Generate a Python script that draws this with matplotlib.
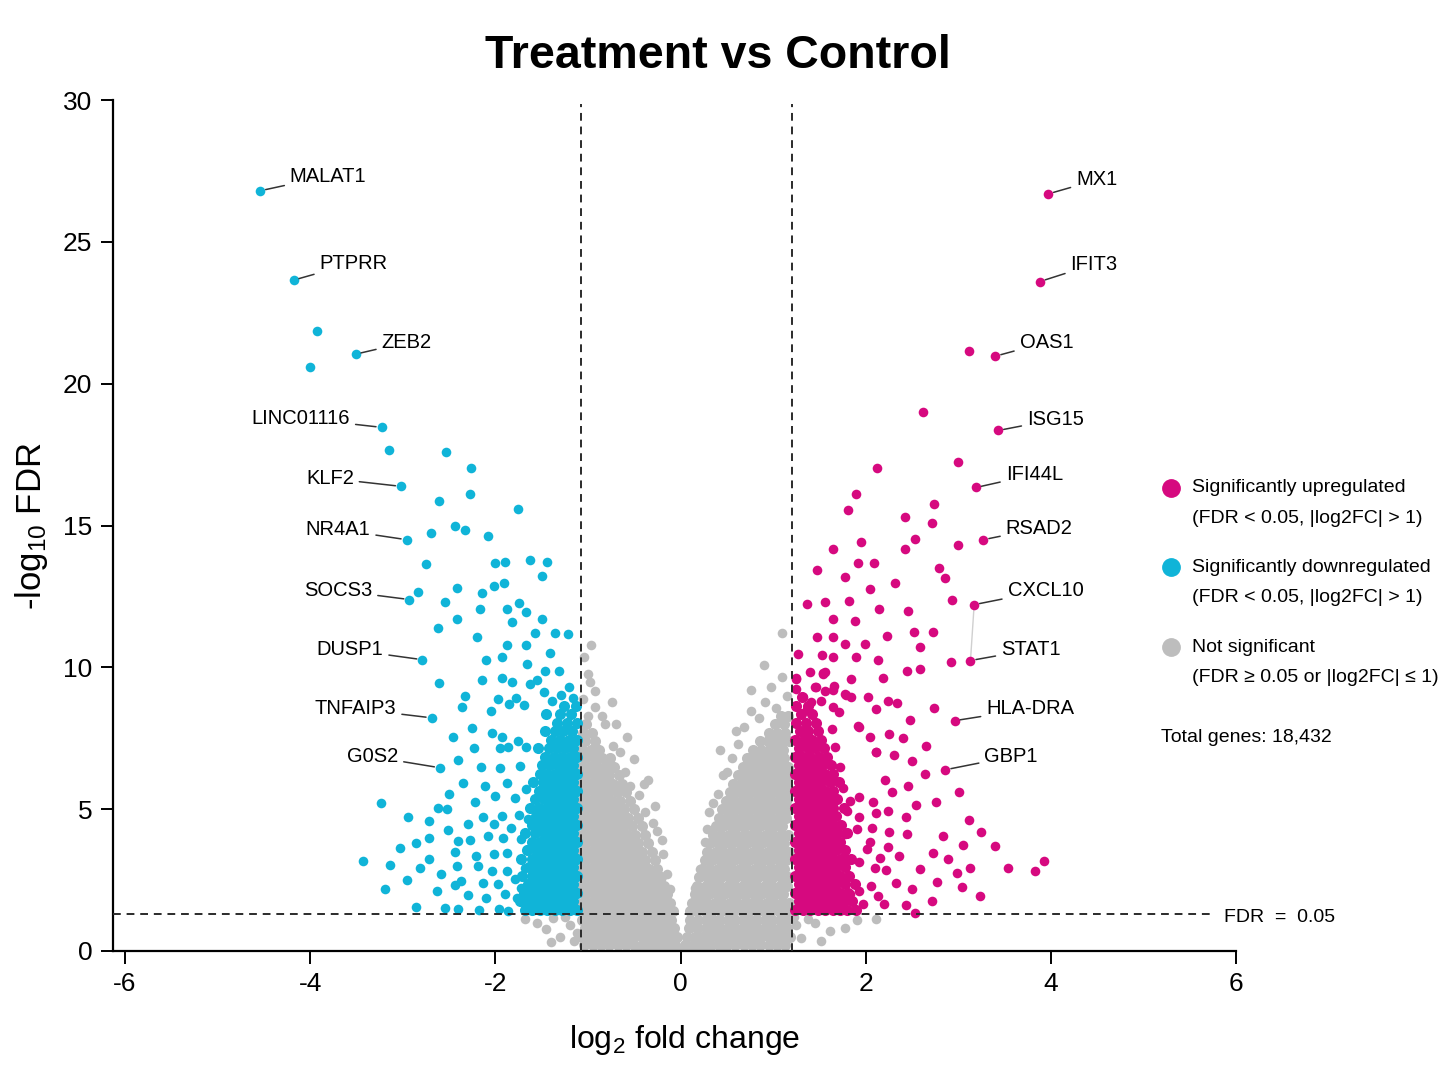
import matplotlib
matplotlib.use("Agg")
import matplotlib.pyplot as plt
from matplotlib.lines import Line2D

# volcano plot: Treatment vs Control
plt.rcParams['font.family'] = ['Liberation Sans', 'DejaVu Sans']
plt.rcParams['mathtext.fontset'] = 'custom'
plt.rcParams['mathtext.rm'] = 'Liberation Sans'
plt.rcParams['axes.unicode_minus'] = False

UP = '#D6097F'
DOWN = '#10B4D8'
NS = '#BDBDBD'

# thresholds as drawn
fc_left, fc_right, fdr_line = -1.08, 1.2, 1.3

# labelled genes
down_genes = ["MALAT1", "PTPRR", "ZEB2", "LINC01116", "KLF2", "NR4A1",
              "SOCS3", "DUSP1", "TNFAIP3", "G0S2"]
down_gene_x = [-4.54, -4.18, -3.51, -3.23, -3.02, -2.96, -2.93, -2.79, -2.69, -2.60]
down_gene_y = [26.8, 23.65, 21.04, 18.46, 16.38, 14.5, 12.39, 10.27, 8.22, 6.46]

up_genes = ["MX1", "IFIT3", "OAS1", "ISG15", "IFI44L", "RSAD2",
            "CXCL10", "STAT1", "HLA-DRA", "GBP1"]
up_gene_x = [3.97, 3.88, 3.40, 3.43, 3.19, 3.27, 3.17, 3.13, 2.96, 2.86]
up_gene_y = [26.69, 23.6, 20.97, 18.35, 16.34, 14.5, 12.21, 10.24, 8.12, 6.39]

# other downregulated genes (scattered)
down_x = [-3.93, -4.00, -3.15, -2.53, -2.26, -2.61, -2.27, -1.76, -2.70, -2.44, -2.33, -2.08,
          -2.75, -2.00, -1.90, -1.63, -1.44, -1.50, -2.84, -2.41, -2.15, -2.02, -1.91,
          -2.55, -2.17, -1.88, -1.75, -1.67, -2.62, -2.41, -1.82, -1.50,
          -2.20, -1.57, -1.36, -1.22, -1.88, -1.67, -2.10, -1.93, -1.66, -1.41, -1.46, -1.31,
          -2.61, -2.15, -1.93, -1.82, -1.63, -1.55, -1.48, -1.21, -1.16,
          -2.33, -2.36, -1.97, -1.78, -1.69, -1.39, -1.29,
          -2.05, -1.85, -2.25, -2.04, -1.93, -1.76, -2.46, -2.23, -1.95, -1.86, -1.67,
          -2.40, -2.16, -1.95, -1.74, -2.35, -2.11, -1.88, -1.67,
          -2.22, -2.00, -1.79, -2.50, -2.52, -2.30, -2.13, -1.93, -1.75, -2.02, -1.83, -1.65,
          -2.27, -2.08, -1.92, -1.72, -2.44, -2.21, -2.02, -1.87, -1.65,
          -2.42, -2.19, -2.04, -1.88, -1.68, -2.37, -2.13, -1.97, -1.79, -1.72,
          -2.30, -2.10, -1.90, -1.77, -2.40, -2.18, -1.96, -1.86, -1.67, -2.55,
          -3.24, -2.94, -2.72, -2.62, -3.03, -2.86, -2.72, -3.43, -3.14, -2.82, -2.72, -2.59,
          -2.95, -2.63, -3.19, -2.86, -2.51, -2.44, -2.40]
down_y = [21.85, 20.58, 17.67, 17.59, 17.03, 15.88, 16.10, 15.57, 14.74, 14.98, 14.85, 14.64,
          13.65, 13.68, 13.73, 13.80, 13.73, 13.21, 12.67, 12.80, 12.63, 12.85, 12.96,
          12.32, 12.05, 12.06, 12.27, 11.95, 11.38, 11.69, 11.60, 11.69,
          11.08, 11.21, 11.22, 11.18, 10.77, 10.80, 10.25, 10.36, 10.11, 10.51, 9.87, 9.88,
          9.45, 9.54, 9.61, 9.49, 9.43, 9.54, 9.13, 9.32, 8.93,
          8.98, 8.60, 8.90, 8.93, 8.66, 8.80, 9.03,
          8.47, 8.71, 7.86, 7.67, 7.53, 7.41, 7.53, 7.16, 7.16, 7.18, 7.18,
          6.73, 6.47, 6.46, 6.53, 5.92, 5.80, 5.91, 5.71,
          5.24, 5.47, 5.41, 5.55, 5.00, 4.47, 4.71, 4.77, 4.80, 4.47, 4.35, 4.65,
          3.92, 4.06, 4.00, 3.94, 3.49, 3.35, 3.41, 3.47, 3.59,
          3.00, 3.00, 2.82, 2.82, 2.94, 2.47, 2.41, 2.35, 2.53, 2.23,
          1.98, 1.88, 2.00, 1.88, 1.47, 1.44, 1.47, 1.41, 1.53, 1.53,
          5.21, 4.74, 4.59, 5.03, 3.62, 3.79, 3.98, 3.19, 3.02, 2.92, 3.23, 2.70,
          2.51, 2.12, 2.19, 1.55, 4.25, 2.31, 3.87]

# other upregulated genes (scattered)
up_x = [3.11, 2.62, 3.00, 2.12, 1.89, 1.81, 2.74, 2.42, 2.71, 2.53, 3.00, 2.42, 1.95, 1.64,
        1.91, 2.09, 1.47, 1.77, 2.79, 2.86, 2.32, 2.05, 1.36, 1.56, 1.82, 2.93, 2.14, 2.45,
        1.65, 1.88, 1.47, 1.65, 1.78, 1.99, 2.23, 2.52, 2.73, 2.58, 1.27, 1.53, 1.65, 1.89,
        2.13, 2.92, 2.44, 2.58, 2.18, 1.40, 1.54, 1.84, 1.25, 1.45, 1.64, 1.79, 2.02, 2.24,
        2.34, 2.11, 2.74, 2.48, 1.92, 2.04, 2.25, 2.40, 2.65, 2.11, 2.30, 2.50, 2.64, 3.01,
        2.21, 2.45, 2.76, 2.54, 2.28, 2.43, 3.11, 3.24, 2.83, 3.05, 3.40, 2.72, 2.89, 3.13,
        3.54, 3.83, 3.92, 2.98, 2.58, 3.04, 3.23, 2.77, 2.50, 2.71, 2.43, 2.33, 2.22, 2.24,
        2.44, 2.25, 2.04, 2.11, 2.08, 2.53,
        1.93, 2.11, 1.93, 1.83, 2.24, 1.93, 1.90, 2.07, 2.36, 2.15, 2.01, 1.93, 2.10, 2.06,
        1.93, 2.13, 1.83, 2.20, 1.97, 1.78, 1.77, 1.80, 1.75, 1.72, 1.67, 1.63, 1.71, 1.84,
        1.66, 1.56, 1.25, 1.54, 1.46, 1.56, 1.32, 1.25, 1.41, 1.52, 1.36, 1.64, 1.77]
up_y = [21.14, 19.01, 17.25, 17.03, 16.11, 15.53, 15.75, 15.30, 15.10, 14.53, 14.32, 14.17,
        14.42, 14.16, 13.67, 13.67, 13.44, 13.19, 13.50, 13.16, 12.97, 12.77, 12.22, 12.30,
        12.34, 12.38, 12.05, 11.99, 11.70, 11.64, 11.07, 11.07, 10.83, 10.83, 11.09, 11.26,
        11.23, 10.70, 10.48, 10.44, 10.35, 10.37, 10.25, 10.20, 9.88, 9.93, 9.63, 9.85, 9.78,
        9.59, 9.63, 9.30, 9.21, 9.03, 8.94, 8.82, 8.74, 8.52, 8.57, 8.14, 7.92, 7.55, 7.66,
        7.51, 7.24, 7.03, 6.92, 6.69, 6.23, 5.62, 6.03, 5.81, 5.24, 5.14, 5.62, 4.71, 4.61,
        4.21, 4.05, 3.73, 3.71, 3.44, 3.25, 2.94, 2.91, 2.81, 3.18, 2.75, 2.89, 2.24, 1.93,
        2.43, 2.19, 1.78, 1.63, 2.41, 2.85, 3.67, 4.13, 4.21, 3.86, 4.87, 5.24, 1.34,
        7.91, 7.00, 5.44, 5.29, 4.94, 4.71, 4.29, 4.35, 3.35, 3.29, 3.59, 3.12, 2.94, 2.29,
        2.12, 1.94, 2.00, 1.65, 1.65, 3.29, 4.12, 4.94, 5.76, 6.47, 7.18, 7.82, 8.41, 8.94,
        9.35, 9.82, 9.59, 9.79, 9.30, 9.18, 8.94, 9.24, 8.77, 8.83, 8.53, 8.59, 9.06]

# dense cores next to the fold-change cut-offs, read row by row
down_core_y = [1.45, 1.75, 2.05, 2.35, 2.65, 2.95, 3.25, 3.55, 3.85, 4.15, 4.45, 4.75, 5.05,
               5.35, 5.65, 5.95, 6.25, 6.55, 6.85, 7.15, 7.45, 7.75, 8.05, 8.35, 8.65]
down_core_x = [
    [-1.12, -1.20, -1.28, -1.36, -1.44, -1.52, -1.60, -1.68],
    [-1.16, -1.24, -1.32, -1.40, -1.48, -1.56, -1.64, -1.74],
    [-1.12, -1.20, -1.28, -1.36, -1.44, -1.52, -1.60, -1.69],
    [-1.16, -1.24, -1.32, -1.40, -1.48, -1.56, -1.65],
    [-1.12, -1.20, -1.28, -1.36, -1.44, -1.52, -1.60, -1.71],
    [-1.16, -1.24, -1.32, -1.40, -1.48, -1.56, -1.64],
    [-1.12, -1.20, -1.28, -1.36, -1.44, -1.52, -1.61, -1.72],
    [-1.16, -1.24, -1.32, -1.40, -1.48, -1.56, -1.66],
    [-1.12, -1.20, -1.28, -1.36, -1.44, -1.52, -1.60],
    [-1.16, -1.24, -1.32, -1.40, -1.48, -1.57, -1.68],
    [-1.12, -1.20, -1.28, -1.36, -1.44, -1.52, -1.61],
    [-1.16, -1.24, -1.32, -1.40, -1.48, -1.56],
    [-1.12, -1.20, -1.28, -1.36, -1.44, -1.53, -1.63],
    [-1.16, -1.24, -1.32, -1.40, -1.48, -1.57],
    [-1.12, -1.20, -1.28, -1.36, -1.44, -1.53],
    [-1.16, -1.24, -1.32, -1.40, -1.49, -1.59],
    [-1.12, -1.20, -1.28, -1.36, -1.44, -1.52],
    [-1.16, -1.24, -1.32, -1.41, -1.50],
    [-1.12, -1.20, -1.28, -1.37, -1.46],
    [-1.16, -1.25, -1.33, -1.42, -1.54],
    [-1.12, -1.21, -1.30, -1.40],
    [-1.17, -1.27, -1.36, -1.47],
    [-1.12, -1.23, -1.33],
    [-1.18, -1.30, -1.45],
    [-1.13, -1.26],
]

up_core_y = [1.45, 1.75, 2.05, 2.35, 2.65, 2.95, 3.25, 3.55, 3.85, 4.15, 4.45, 4.75, 5.05,
             5.35, 5.65, 5.95, 6.25, 6.55, 6.85, 7.15, 7.45, 7.75, 8.05, 8.35, 8.65, 8.95]
up_core_x = [
    [1.24, 1.32, 1.40, 1.48, 1.56, 1.64, 1.72, 1.80, 1.89],
    [1.28, 1.36, 1.44, 1.52, 1.60, 1.68, 1.76, 1.85],
    [1.24, 1.32, 1.40, 1.48, 1.56, 1.64, 1.72, 1.81],
    [1.28, 1.36, 1.44, 1.52, 1.60, 1.68, 1.77, 1.88],
    [1.24, 1.32, 1.40, 1.48, 1.56, 1.64, 1.72, 1.82],
    [1.28, 1.36, 1.44, 1.52, 1.60, 1.68, 1.77],
    [1.24, 1.32, 1.40, 1.48, 1.56, 1.64, 1.73, 1.84],
    [1.28, 1.36, 1.44, 1.52, 1.60, 1.68, 1.78],
    [1.24, 1.32, 1.40, 1.48, 1.56, 1.64, 1.72],
    [1.28, 1.36, 1.44, 1.52, 1.60, 1.69, 1.80],
    [1.24, 1.32, 1.40, 1.48, 1.56, 1.64, 1.73],
    [1.28, 1.36, 1.44, 1.52, 1.60, 1.68],
    [1.24, 1.32, 1.40, 1.48, 1.56, 1.65, 1.76],
    [1.28, 1.36, 1.44, 1.52, 1.60, 1.69],
    [1.24, 1.32, 1.40, 1.48, 1.56, 1.65],
    [1.28, 1.36, 1.44, 1.52, 1.61, 1.71],
    [1.24, 1.32, 1.40, 1.48, 1.56, 1.64],
    [1.28, 1.36, 1.44, 1.53, 1.62],
    [1.24, 1.32, 1.40, 1.49, 1.58],
    [1.28, 1.37, 1.45, 1.55],
    [1.24, 1.33, 1.42, 1.52],
    [1.29, 1.38, 1.48],
    [1.25, 1.35, 1.46],
    [1.30, 1.42],
    [1.25, 1.37],
    [1.31],
]

# not significant: dense V body, read row by row
ns_left_y = [0.20, 0.50, 0.80, 1.10, 1.40, 1.70, 2.00, 2.30, 2.60, 2.90, 3.20, 3.50, 3.80,
             4.10, 4.40, 4.70, 5.00, 5.30, 5.60, 5.90, 6.20, 6.50, 6.80, 7.10, 7.40, 7.70, 8.00]
ns_left_x = [
    [-1.04, -0.95, -0.86, -0.77, -0.68, -0.59, -0.50, -0.41, -0.32, -0.23, -0.14, -0.06],
    [-1.06, -0.98, -0.90, -0.82, -0.74, -0.66, -0.58, -0.50, -0.42, -0.34, -0.26, -0.18, -0.10, -0.04],
    [-1.03, -0.94, -0.86, -0.78, -0.70, -0.62, -0.54, -0.46, -0.38, -0.30, -0.22, -0.14, -0.07],
    [-1.06, -0.98, -0.90, -0.82, -0.74, -0.66, -0.58, -0.50, -0.42, -0.34, -0.26, -0.18, -0.10],
    [-1.03, -0.94, -0.86, -0.78, -0.70, -0.62, -0.54, -0.46, -0.38, -0.30, -0.22, -0.14, -0.08],
    [-1.06, -0.98, -0.90, -0.82, -0.74, -0.66, -0.58, -0.50, -0.42, -0.34, -0.26, -0.18, -0.11],
    [-1.03, -0.94, -0.86, -0.78, -0.70, -0.62, -0.54, -0.46, -0.38, -0.30, -0.22, -0.15],
    [-1.06, -0.98, -0.90, -0.82, -0.74, -0.66, -0.58, -0.50, -0.42, -0.34, -0.26, -0.18],
    [-1.03, -0.94, -0.86, -0.78, -0.70, -0.62, -0.54, -0.46, -0.38, -0.30, -0.21],
    [-1.06, -0.98, -0.90, -0.82, -0.74, -0.66, -0.58, -0.50, -0.42, -0.34, -0.25],
    [-1.03, -0.94, -0.86, -0.78, -0.70, -0.62, -0.54, -0.46, -0.38, -0.28],
    [-1.06, -0.98, -0.90, -0.82, -0.74, -0.66, -0.58, -0.50, -0.42, -0.31],
    [-1.03, -0.94, -0.86, -0.78, -0.70, -0.62, -0.54, -0.46, -0.35],
    [-1.06, -0.98, -0.90, -0.82, -0.74, -0.66, -0.58, -0.49, -0.38],
    [-1.03, -0.94, -0.86, -0.78, -0.70, -0.62, -0.53, -0.42],
    [-1.06, -0.98, -0.90, -0.82, -0.74, -0.66, -0.57, -0.46],
    [-1.03, -0.94, -0.86, -0.78, -0.70, -0.61, -0.50],
    [-1.06, -0.98, -0.90, -0.82, -0.74, -0.65, -0.55],
    [-1.03, -0.94, -0.86, -0.78, -0.69, -0.59],
    [-1.06, -0.98, -0.90, -0.82, -0.73, -0.63],
    [-1.03, -0.94, -0.86, -0.77, -0.67],
    [-1.06, -0.98, -0.90, -0.81, -0.72],
    [-1.03, -0.94, -0.85, -0.76],
    [-1.06, -0.97, -0.88],
    [-1.03, -0.93],
    [-1.05, -0.96],
    [-1.02],
]

ns_right_y = [0.20, 0.50, 0.80, 1.10, 1.40, 1.70, 2.00, 2.30, 2.60, 2.90, 3.20, 3.50, 3.80,
              4.10, 4.40, 4.70, 5.00, 5.30, 5.60, 5.90, 6.20, 6.50, 6.80, 7.10, 7.40, 7.70,
              8.00, 8.30]
ns_right_x = [
    [0.05, 0.14, 0.23, 0.32, 0.41, 0.50, 0.59, 0.68, 0.77, 0.86, 0.95, 1.04, 1.13],
    [0.07, 0.15, 0.23, 0.31, 0.39, 0.47, 0.55, 0.63, 0.71, 0.79, 0.87, 0.95, 1.03, 1.11, 1.18],
    [0.09, 0.18, 0.27, 0.35, 0.43, 0.51, 0.59, 0.67, 0.75, 0.83, 0.91, 0.99, 1.07, 1.15],
    [0.10, 0.19, 0.27, 0.35, 0.43, 0.51, 0.59, 0.67, 0.75, 0.83, 0.91, 0.99, 1.07, 1.15],
    [0.10, 0.18, 0.26, 0.34, 0.42, 0.50, 0.58, 0.66, 0.74, 0.82, 0.90, 0.98, 1.06, 1.14],
    [0.12, 0.21, 0.29, 0.37, 0.45, 0.53, 0.61, 0.69, 0.77, 0.85, 0.93, 1.01, 1.09, 1.17],
    [0.15, 0.23, 0.31, 0.39, 0.47, 0.55, 0.63, 0.71, 0.79, 0.87, 0.95, 1.03, 1.11],
    [0.18, 0.27, 0.35, 0.43, 0.51, 0.59, 0.67, 0.75, 0.83, 0.91, 0.99, 1.07, 1.15],
    [0.20, 0.28, 0.36, 0.44, 0.52, 0.60, 0.68, 0.76, 0.84, 0.92, 1.00, 1.08, 1.16],
    [0.23, 0.32, 0.40, 0.48, 0.56, 0.64, 0.72, 0.80, 0.88, 0.96, 1.04, 1.12],
    [0.26, 0.34, 0.42, 0.50, 0.58, 0.66, 0.74, 0.82, 0.90, 0.98, 1.06, 1.14],
    [0.29, 0.38, 0.46, 0.54, 0.62, 0.70, 0.78, 0.86, 0.94, 1.02, 1.10, 1.17],
    [0.32, 0.40, 0.48, 0.56, 0.64, 0.72, 0.80, 0.88, 0.96, 1.04, 1.12],
    [0.35, 0.44, 0.52, 0.60, 0.68, 0.76, 0.84, 0.92, 1.00, 1.08, 1.16],
    [0.38, 0.46, 0.54, 0.62, 0.70, 0.78, 0.86, 0.94, 1.02, 1.10],
    [0.41, 0.50, 0.58, 0.66, 0.74, 0.82, 0.90, 0.98, 1.06, 1.14],
    [0.45, 0.53, 0.61, 0.69, 0.77, 0.85, 0.93, 1.01, 1.09, 1.17],
    [0.49, 0.58, 0.66, 0.74, 0.82, 0.90, 0.98, 1.06, 1.14],
    [0.53, 0.61, 0.69, 0.77, 0.85, 0.93, 1.01, 1.09, 1.17],
    [0.57, 0.66, 0.74, 0.82, 0.90, 0.98, 1.06, 1.14],
    [0.62, 0.70, 0.78, 0.86, 0.94, 1.02, 1.10, 1.17],
    [0.67, 0.76, 0.84, 0.92, 1.00, 1.08, 1.16],
    [0.72, 0.80, 0.88, 0.96, 1.04, 1.12],
    [0.78, 0.87, 0.95, 1.03, 1.11],
    [0.86, 0.94, 1.02, 1.10, 1.17],
    [0.95, 1.04, 1.13],
    [1.02, 1.12],
    [1.08, 1.16],
]

# not significant: scattered points around the V and under the FDR line
ns_x = [-0.97, -1.04, -1.00, -0.93, -0.74, -0.82, -0.70, -0.58, -0.73, -0.50, -0.35, -0.28,
        -0.25, -0.19, -0.15, -0.12, -0.60, -0.55, -0.45, -0.38, -0.30, -0.20, -0.85, -0.92,
        -0.98, -0.66, -0.40, -1.05, -1.00,
        1.10, 0.90, 1.10, 0.76, 0.76, 0.91, 1.03, 0.60, 0.43, 0.46, 0.40, 0.31, 0.26, 0.21,
        0.16, 0.13, 0.55, 0.50, 0.35, 0.28, 0.62, 0.68, 0.85, 1.15, 0.98,
        -1.68, -1.45, -1.20, -1.30, -1.15, -1.55, -1.38, -1.25, -1.12, -1.40,
        1.77, 2.11, 1.37, 1.61, 1.25, 1.30, 1.45, 1.22, 1.52, 1.90,
        -0.45, -0.35, -0.25, -0.15, -0.06, 0.03, 0.12, 0.22, 0.32, 0.42]
ns_y = [10.8, 10.35, 9.77, 9.18, 8.77, 8.0, 8.0, 7.53, 7.24, 6.77, 6.03, 5.12,
        4.24, 3.41, 2.71, 2.18, 6.3, 5.8, 5.5, 4.9, 4.5, 3.9, 8.3, 8.6,
        9.5, 7.0, 5.9, 8.9, 8.3,
        11.2, 10.08, 9.65, 9.2, 8.47, 8.77, 8.57, 7.77, 7.09, 6.21, 5.53, 4.91, 3.86, 2.88,
        2.23, 1.70, 6.8, 6.3, 5.2, 4.3, 7.3, 7.9, 8.2, 9.0, 9.3,
        1.13, 0.78, 0.90, 0.50, 0.35, 1.00, 1.15, 1.20, 0.65, 0.30,
        0.81, 1.13, 1.13, 0.71, 0.90, 0.45, 1.00, 1.20, 0.35, 1.10,
        0.08, 0.08, 0.08, 0.08, 0.08, 0.08, 0.08, 0.08, 0.08, 0.08]

total_genes = "18,432"


def flatten(rows_y, rows_x):
    xs, ys = [], []
    for yv, row in zip(rows_y, rows_x):
        xs.extend(row)
        ys.extend([yv] * len(row))
    return xs, ys


fig = plt.figure(figsize=(14.48, 10.86), dpi=100)
# 0 sits at x = 681 px, 92.6 px per unit, as in the reference
ax = fig.add_axes([113 / 1448, 1 - 951 / 1086, 12.13 * 92.6 / 1448, 851 / 1086])

dot = 48      # single scattered genes
dense = 64    # points inside the packed cores

nlx, nly = flatten(ns_left_y, ns_left_x)
nrx, nry = flatten(ns_right_y, ns_right_x)
ax.scatter(nlx + nrx, nly + nry, s=dense, color=NS, linewidths=0, zorder=2)
ax.scatter(ns_x, ns_y, s=dot, color=NS, linewidths=0, zorder=2)

dcx, dcy = flatten(down_core_y, down_core_x)
ax.scatter(dcx, dcy, s=dense, color=DOWN, linewidths=0, zorder=3)
ax.scatter(down_x + down_gene_x, down_y + down_gene_y,
           s=dot, color=DOWN, linewidths=0, zorder=3)

ucx, ucy = flatten(up_core_y, up_core_x)
ax.scatter(ucx, ucy, s=dense, color=UP, linewidths=0, zorder=3)
ax.scatter(up_x + up_gene_x, up_y + up_gene_y,
           s=dot, color=UP, linewidths=0, zorder=3)

# threshold lines
dash = dict(color='#2b2b2b', lw=1.4, ls=(0, (4, 3)), zorder=4)
ax.axvline(fc_left, ymax=0.995, **dash)
ax.axvline(fc_right, ymax=0.995, **dash)
ax.hlines(fdr_line, -6.13, 5.75, **dash)
ax.text(5.87, fdr_line - 0.12, "FDR  =  0.05", fontsize=14, ha='left', va='center')

# gene labels
down_text = [(-4.22, 27.32, 'left'), (-3.90, 24.25, 'left'), (-3.23, 21.46, 'left'),
             (-3.57, 18.78, 'right'), (-3.53, 16.66, 'right'), (-3.35, 14.86, 'right'),
             (-3.33, 12.71, 'right'), (-3.21, 10.62, 'right'), (-3.07, 8.54, 'right'),
             (-3.05, 6.85, 'right')]
up_text = [(4.27, 27.18), (4.21, 24.21), (3.66, 21.46), (3.74, 18.74), (3.51, 16.80),
           (3.51, 14.90), (3.53, 12.71), (3.46, 10.62), (3.30, 8.54), (3.28, 6.85)]

leader = dict(arrowstyle='-', color='#333333', lw=1.1, shrinkA=2, shrinkB=4)
for name, gx, gy, (tx, ty, ha) in zip(down_genes, down_gene_x, down_gene_y, down_text):
    ax.annotate(name, xy=(gx, gy), xytext=(tx, ty), fontsize=14.5, ha=ha, va='center',
                arrowprops=leader, zorder=5)
for name, gx, gy, (tx, ty) in zip(up_genes, up_gene_x, up_gene_y, up_text):
    ax.annotate(name, xy=(gx, gy), xytext=(tx, ty), fontsize=14.5, ha='left', va='center',
                arrowprops=leader, zorder=5)

# faint connector between CXCL10 and STAT1
ax.plot([up_gene_x[6], up_gene_x[7]], [up_gene_y[6], up_gene_y[7]],
        color='#d0d0d0', lw=1, zorder=1)

# axes styling
ax.set_xlim(-6.13, 6)
ax.set_ylim(0, 30)
ax.set_xticks([-6, -4, -2, 0, 2, 4, 6])
ax.set_yticks([0, 5, 10, 15, 20, 25, 30])
for side in ['top', 'right']:
    ax.spines[side].set_visible(False)
for side in ['left', 'bottom']:
    ax.spines[side].set_linewidth(1.6)
ax.tick_params(length=9, width=1.4, labelsize=19, pad=6)

fig.text(0.473, 1 - 1040 / 1086, r"$\mathregular{log_2}$ fold change",
         fontsize=23, ha='center', va='center')
fig.text(0.022, 1 - 526 / 1086, r"-$\mathregular{log_{10}}$ FDR",
         fontsize=25, ha='center', va='center', rotation=90)
fig.text(0.496, 1 - 68 / 1086, "Treatment vs Control", fontsize=33.5,
         fontweight='bold', ha='center', va='baseline')

# legend, drawn by hand
legend_items = [
    (UP, "Significantly upregulated", "(FDR < 0.05, |log2FC| > 1)", 488),
    (DOWN, "Significantly downregulated", "(FDR < 0.05, |log2FC| > 1)", 567),
    (NS, "Not significant", "(FDR \u2265 0.05 or |log2FC| \u2264 1)", 647),
]
for col, line1, line2, py in legend_items:
    fy = 1 - py / 1086
    fig.add_artist(Line2D([0.8087], [fy], marker='o', markersize=12.5, color=col,
                          ls='none', transform=fig.transFigure))
    fig.text(0.8232, fy, line1, fontsize=14, ha='left', va='center')
    fig.text(0.8232, fy - 31 / 1086, line2, fontsize=14, ha='left', va='center')
fig.text(0.8018, 1 - 737 / 1086, "Total genes: " + total_genes, fontsize=14,
         ha='left', va='center')

fig.savefig("out.png", dpi=100, facecolor='white')
